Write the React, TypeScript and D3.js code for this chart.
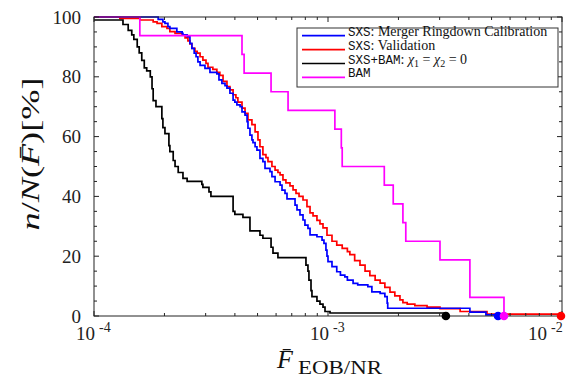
import React from 'react';
import * as d3 from 'd3';

const W = 568;
const H = 378;

// Cumulative share of cases whose mismatch lies above F̄, as step points [F̄, %]
const calibF = [1e-4, 1.88e-4, 1.97e-4, 2.01e-4, 2.07e-4, 2.11e-4, 2.26e-4, 2.38e-4, 2.40e-4, 2.50e-4,
  2.57e-4, 2.62e-4, 2.68e-4, 2.73e-4, 2.78e-4, 2.84e-4, 2.98e-4, 3.13e-4, 3.35e-4, 3.42e-4,
  3.52e-4, 3.63e-4, 3.70e-4, 3.81e-4, 3.93e-4, 4.00e-4, 4.08e-4, 4.21e-4, 4.29e-4, 4.42e-4,
  4.51e-4, 4.55e-4, 4.64e-4, 4.73e-4, 4.78e-4, 4.88e-4, 4.97e-4, 5.12e-4, 5.27e-4, 5.38e-4,
  5.65e-4, 5.76e-4, 5.94e-4, 6.24e-4, 6.36e-4, 6.55e-4, 6.68e-4, 7.23e-4, 7.37e-4, 7.59e-4,
  7.82e-4, 7.97e-4, 8.21e-4, 8.38e-4, 8.97e-4, 9.43e-4, 9.61e-4, 9.80e-4, 9.90e-4, 1.00e-3,
  1.04e-3, 1.09e-3, 1.13e-3, 1.18e-3, 1.21e-3, 1.28e-3, 1.34e-3, 1.48e-3, 1.54e-3, 1.67e-3,
  1.75e-3, 1.79e-3, 1.80e-3, 4.04e-3, 4.73e-3, 5.33e-3];
const calibPct = [100, 99.2, 98.4, 97.9, 96.8, 96.2, 95, 94.5, 94, 93.4,
  91.2, 89.5, 87.9, 86.7, 85, 83.8, 82.8, 81.5, 81, 79,
  77.8, 77, 76.2, 74.5, 72.2, 71.5, 70.6, 70, 68.3, 67.2,
  65, 62.8, 60.5, 58.9, 58, 56.6, 55.5, 52.7, 51.6, 49.4,
  48.3, 46.6, 44.9, 43.8, 42.1, 41, 39.2, 37.1, 35.5, 33.8,
  32.1, 30.4, 29.3, 27.1, 26.5, 25.4, 24.3, 22, 20, 18.2,
  16.5, 14.8, 13.7, 13.1, 12, 10.9, 10.4, 9.8, 8.1, 7.6,
  6.5, 4.3, 2.6, 1.3, 0.4, 0];

const validF = [1e-4, 1.29e-4, 1.57e-4, 1.79e-4, 1.86e-4, 1.95e-4, 2.05e-4, 2.11e-4, 2.22e-4, 2.38e-4,
  2.45e-4, 2.52e-4, 2.57e-4, 2.62e-4, 2.70e-4, 2.76e-4, 2.84e-4, 2.92e-4, 3.01e-4, 3.07e-4,
  3.22e-4, 3.35e-4, 3.45e-4, 3.56e-4, 3.70e-4, 3.81e-4, 3.93e-4, 4.04e-4, 4.12e-4, 4.29e-4,
  4.42e-4, 4.55e-4, 4.73e-4, 4.88e-4, 5.02e-4, 5.12e-4, 5.27e-4, 5.43e-4, 5.54e-4, 5.76e-4,
  5.94e-4, 6.11e-4, 6.24e-4, 6.42e-4, 6.61e-4, 6.88e-4, 7.09e-4, 7.30e-4, 7.52e-4, 7.82e-4,
  8.13e-4, 8.38e-4, 8.63e-4, 8.97e-4, 9.24e-4, 9.52e-4, 9.90e-4, 1.04e-3, 1.09e-3, 1.15e-3,
  1.21e-3, 1.24e-3, 1.30e-3, 1.37e-3, 1.44e-3, 1.51e-3, 1.59e-3, 1.67e-3, 1.75e-3, 1.84e-3,
  1.93e-3, 2.03e-3, 2.09e-3, 2.18e-3, 2.35e-3, 2.65e-3, 3.01e-3, 3.67e-3, 4.78e-3, 9.9e-3];
const validPct = [100, 99.5, 99, 98.4, 97.9, 96.8, 96.2, 95.1, 94.5, 94,
  93, 92, 91, 89.5, 88.5, 87.9, 86.7, 85.6, 84.5, 83.2,
  82.5, 81.5, 80.5, 78.5, 76.7, 75.6, 74, 73, 71.5, 69.5,
  67.8, 65.6, 64, 61.6, 58.9, 56.6, 54, 53, 51.6, 50,
  48.8, 48, 47.2, 45.5, 44.5, 43.5, 42.2, 41, 40, 38.8,
  36.6, 34.5, 33.5, 32, 30.8, 29.5, 27, 25, 23.7, 22.6,
  21.5, 20.5, 18.5, 17, 15, 13.5, 12, 11, 9.6, 8,
  6.7, 5.4, 4.5, 4, 3.5, 3, 2.5, 1.5, 0.6, 0];

const nonSpinF = [1e-4, 1.33e-4, 1.40e-4, 1.45e-4, 1.48e-4, 1.53e-4, 1.56e-4, 1.60e-4, 1.64e-4, 1.68e-4,
  1.74e-4, 1.77e-4, 1.79e-4, 1.84e-4, 1.95e-4, 1.97e-4, 2.01e-4, 2.09e-4, 2.11e-4, 2.18e-4,
  2.22e-4, 2.29e-4, 2.40e-4, 2.50e-4, 2.89e-4, 2.92e-4, 3.10e-4, 3.16e-4, 3.93e-4, 4.00e-4,
  4.33e-4, 4.64e-4, 5.12e-4, 5.27e-4, 5.71e-4, 5.82e-4, 6.11e-4, 8.05e-4, 8.21e-4, 8.29e-4,
  8.46e-4, 8.54e-4, 8.97e-4, 9.24e-4, 9.52e-4, 9.71e-4, 1.02e-3, 3.19e-3];
const nonSpinPct = [99, 97.5, 95.5, 94, 92.5, 90, 88, 85.5, 83, 82,
  80, 76, 72, 70, 66, 63, 61, 57, 55, 52,
  50, 48, 46, 45, 44, 43, 41.5, 40, 35, 34,
  33, 28.5, 27, 26, 23, 21, 19.5, 17, 15, 12,
  8.5, 6.5, 5, 4, 3, 1.5, 1, 0];

const bamF = [1e-4, 1.57e-4, 4.29e-4, 4.38e-4, 5.71e-4, 6.75e-4, 1.07e-3, 1.14e-3, 1.15e-3, 1.74e-3,
  1.90e-3, 2.09e-3, 2.15e-3, 3.01e-3, 4.04e-3, 5.65e-3];
const bamPct = [100, 93.75, 87.5, 81.25, 75, 68.75, 62.5, 56.25, 50, 43.75,
  37.5, 31.25, 25, 18.75, 6.25, 0];

const yTicks = [0, 20, 40, 60, 80, 100];
const xDecades = [1e-4, 1e-3, 1e-2];
const xDecadeExp = ['-4', '-3', '-2'];

type Seg = { t: string; mono?: boolean; it?: boolean; sub?: boolean };

const series = [
  { f: calibF, p: calibPct, color: '#0000ff', label: [{ t: 'SXS', mono: true }, { t: ': Merger Ringdown Calibration' }] as Seg[] },
  { f: validF, p: validPct, color: '#ff0000', label: [{ t: 'SXS', mono: true }, { t: ': Validation' }] as Seg[] },
  { f: nonSpinF, p: nonSpinPct, color: '#000000', label: [
    { t: 'SXS+BAM', mono: true }, { t: ': ' }, { t: 'χ', it: true }, { t: '1', sub: true },
    { t: ' = ' }, { t: 'χ', it: true }, { t: '2', sub: true }, { t: ' = 0' }] as Seg[] },
  { f: bamF, p: bamPct, color: '#ff00ff', label: [{ t: 'BAM', mono: true }] as Seg[] },
];
// drawing order: validation, calibration, non-spinning, BAM on top
const drawOrder = [1, 0, 2, 3];

const L = 94, R = 562, T = 17, B = 316;
const SERIF = "'Liberation Serif', 'DejaVu Serif', 'Times New Roman', serif";
const MONO = "'Liberation Mono', 'DejaVu Sans Mono', monospace";

export default function App() {
  const x = d3.scaleLog().domain([1e-4, 1e-2]).range([L, R]);
  const y = d3.scaleLinear().domain([0, 100]).range([B, T]);

  const line = d3.line<[number, number]>()
    .x(d => x(d[0]))
    .y(d => y(d[1]))
    .curve(d3.curveStepAfter);

  const minorX: number[] = [];
  for (const dec of [1e-4, 1e-3]) for (let k = 2; k <= 9; k++) minorX.push(k * dec);
  const yMinor = d3.range(0, 101, 5).filter(v => v % 20 !== 0);

  const tickColor = '#222';
  const maj = 5, mnr = 3;

  const lgX = 297, lgY = 28, lgW = 261, lgH = 59;
  const rowY = (i: number) => 35.7 + i * 13.9;
  const serif = { fontFamily: SERIF } as React.CSSProperties;
  const mono = { fontFamily: MONO } as React.CSSProperties;

  return (
    <svg width={W} height={H} style={{ position: 'absolute', left: 0, top: 0, background: '#fff' }}
      xmlns="http://www.w3.org/2000/svg">
      <rect x={0} y={0} width={W} height={H} fill="#fff" />

      {/* series */}
      {drawOrder.map(i => {
        const s = series[i];
        const pts = s.f.map((f, j) => [f, s.p[j]] as [number, number]);
        return <path key={'l' + i} d={line(pts) || ''} fill="none" stroke={s.color} strokeWidth={1.7} />;
      })}

      {/* frame */}
      <rect x={L} y={T} width={R - L} height={B - T} fill="none" stroke={tickColor} strokeWidth={1} />

      {/* x ticks on bottom and top */}
      {xDecades.map(v => (
        <g key={'xm' + v}>
          <line x1={x(v)} x2={x(v)} y1={B} y2={B - maj} stroke={tickColor} />
          <line x1={x(v)} x2={x(v)} y1={T} y2={T + maj} stroke={tickColor} />
        </g>
      ))}
      {minorX.map(v => (
        <g key={'xn' + v}>
          <line x1={x(v)} x2={x(v)} y1={B} y2={B - mnr} stroke={tickColor} />
          <line x1={x(v)} x2={x(v)} y1={T} y2={T + mnr} stroke={tickColor} />
        </g>
      ))}
      {/* y ticks on left and right */}
      {yTicks.map(v => (
        <g key={'ym' + v}>
          <line x1={L} x2={L + maj} y1={y(v)} y2={y(v)} stroke={tickColor} />
          <line x1={R} x2={R - maj} y1={y(v)} y2={y(v)} stroke={tickColor} />
        </g>
      ))}
      {yMinor.map(v => (
        <g key={'yn' + v}>
          <line x1={L} x2={L + mnr} y1={y(v)} y2={y(v)} stroke={tickColor} />
          <line x1={R} x2={R - mnr} y1={y(v)} y2={y(v)} stroke={tickColor} />
        </g>
      ))}

      {/* end-point markers */}
      {drawOrder.map(i => {
        const s = series[i];
        const n = s.f.length - 1;
        return <circle key={'c' + i} cx={x(s.f[n])} cy={y(s.p[n])} r={4.3} fill={s.color} />;
      })}

      {/* y tick labels */}
      {yTicks.map(v => (
        <text key={'yl' + v} x={81} y={y(v)} dy="0.35em" textAnchor="end"
          style={serif} fontSize={19} fill="#222">{v}</text>
      ))}
      {/* x tick labels */}
      {xDecades.map((v, i) => (
        <text key={'xl' + v} x={Math.min(x(v) - 18, 528)} y={340} style={serif} fontSize={19} fill="#222">
          10<tspan dx={4} dy={-8} fontSize={14}>{xDecadeExp[i]}</tspan>
        </text>
      ))}

      {/* axis titles */}
      <g style={serif} fill="#111">
        <text x={277} y={368} fontSize={26} fontStyle="italic">F&#x0304;</text>
        <text x={298} y={374} fontSize={19} textLength={84} lengthAdjust="spacingAndGlyphs">EOB/NR</text>
      </g>
      <text transform="translate(39,154) rotate(-90)" textAnchor="middle" style={serif} fontSize={25}
        textLength={153} lengthAdjust="spacingAndGlyphs" fill="#111">
        <tspan fontStyle="italic">n</tspan>/<tspan fontStyle="italic">N</tspan>(<tspan fontStyle="italic">F&#x0304;</tspan>)[%]
      </text>

      {/* legend */}
      <rect x={lgX} y={lgY} width={lgW} height={lgH} fill="#fff" stroke="#333" strokeWidth={1} />
      {series.map((s, i) => (
        <g key={'lg' + i}>
          <line x1={302} x2={345} y1={rowY(i)} y2={rowY(i)} stroke={s.color} strokeWidth={1.7} />
          <text x={348} y={rowY(i)} dy="0.35em" style={serif} fontSize={14} fill="#111">
            {s.label.map((g, k) => (
              <tspan key={k}
                style={g.mono ? mono : serif}
                fontStyle={g.it ? 'italic' : undefined}
                fontSize={g.sub ? 10 : g.mono ? 12.5 : 14}
                dy={g.sub ? 3 : (k > 0 && s.label[k - 1].sub ? -3 : 0)}>{g.t}</tspan>
            ))}
          </text>
        </g>
      ))}
    </svg>
  );
}
